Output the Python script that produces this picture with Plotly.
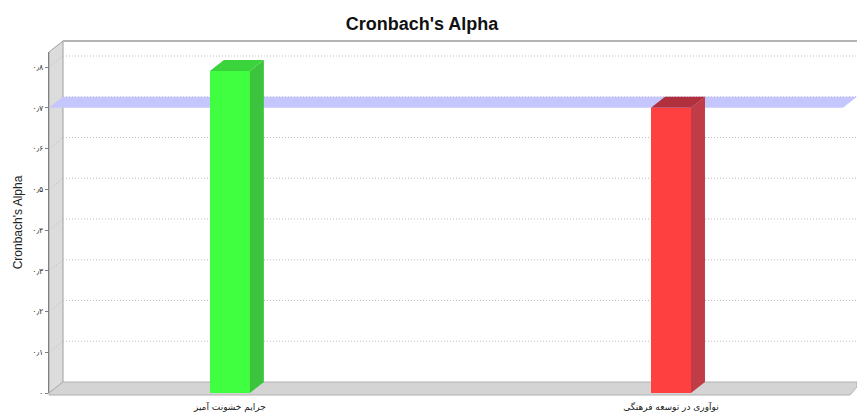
import plotly.graph_objects as go

# ---- data ----
categories = ["جرایم خشونت آمیز", "نوآوری در توسعه فرهنگی"]
alpha_values = [0.79, 0.70]
bar_colors = ["#40FF40", "#FF4040"]
side_colors = ["#3CC43C", "#C03C46"]
top_colors = ["#3CD43C", "#B0303E"]
threshold = 0.70
y_tickvals = [0, 0.1, 0.2, 0.3, 0.4, 0.5, 0.6, 0.7, 0.8]
y_ticktext = ["۰", "۰٫۱", "۰٫۲", "۰٫۳", "۰٫۴", "۰٫۵", "۰٫۶", "۰٫۷", "۰٫۸"]

# ---- layout geometry ----
W, H = 857, 417
ML, MR, MT, MB = 49, 14, 52, 24
PW, PH = W - ML - MR, H - MT - MB
XMIN, XMAX = -0.41, 1.39
YMAX = 0.8368
DX, DY = 14, 11                       # 3D depth offset in pixels
px_x = PW / (XMAX - XMIN)
px_y = PH / YMAX
ddx, ddy = DX / px_x, DY / px_y       # depth in data units
BW = 40 / px_x                        # bar width in data units

fig = go.Figure()

xs = list(range(len(categories)))
# front faces
fig.add_trace(go.Bar(x=xs, y=alpha_values, width=BW,
                     marker=dict(color=bar_colors, line=dict(width=0)),
                     hoverinfo="skip", showlegend=False))
# side + top faces
for i, v in enumerate(alpha_values):
    hw = BW / 2
    fig.add_trace(go.Scatter(
        x=[i + hw, i + hw + ddx, i + hw + ddx, i + hw, i + hw],
        y=[0, ddy, v + ddy, v, 0],
        fill="toself", fillcolor=side_colors[i], mode="lines",
        line=dict(width=0), hoverinfo="skip", showlegend=False))
    fig.add_trace(go.Scatter(
        x=[i - hw, i - hw + ddx, i + hw + ddx, i + hw, i - hw],
        y=[v, v + ddy, v + ddy, v, v],
        fill="toself", fillcolor=top_colors[i], mode="lines",
        line=dict(width=0), hoverinfo="skip", showlegend=False))

shapes = []
# left wall
shapes.append(dict(type="path", layer="below", xref="paper", yref="paper",
                   xsizemode="pixel", ysizemode="pixel", xanchor=0, yanchor=0,
                   path=f"M0,0 L0,{PH} L{DX},{PH + DY} L{DX},{DY} Z",
                   fillcolor="#DCDCDC", line=dict(color="#A0A0A0", width=1)))
# floor
shapes.append(dict(type="path", layer="below", xref="paper", yref="paper",
                   xsizemode="pixel", ysizemode="pixel", xanchor=0, yanchor=0,
                   path=f"M0,-2 L{PW + 7},-2 L{PW + DX},{DY - 5} L{PW + DX},{DY} L{DX},{DY} L0,0 Z",
                   fillcolor="#D4D4D4", line=dict(color="#B0B0B0", width=1)))
# back wall top border
shapes.append(dict(type="line", layer="below", xref="paper", yref="paper",
                   xsizemode="pixel", ysizemode="pixel", xanchor=0, yanchor=1,
                   x0=DX, x1=PW + DX, y0=DY, y1=DY,
                   line=dict(color="#B4B4B4", width=2)))
# gridlines on back wall and left wall
for v in y_tickvals[1:]:
    shapes.append(dict(type="line", layer="below", xref="paper", yref="y",
                       xsizemode="pixel", ysizemode="pixel", xanchor=0, yanchor=v,
                       x0=DX, x1=PW + DX, y0=DY, y1=DY,
                       line=dict(color="#BDBDBD", width=1, dash="1px,2px")))
    shapes.append(dict(type="line", layer="below", xref="paper", yref="y",
                       xsizemode="pixel", ysizemode="pixel", xanchor=0, yanchor=v,
                       x0=0, x1=DX, y0=0, y1=DY,
                       line=dict(color="#BDBDBD", width=1, dash="1px,2px")))
# threshold plane
shapes.append(dict(type="path", layer="below", xref="paper", yref="y",
                   xsizemode="pixel", ysizemode="pixel", xanchor=0, yanchor=threshold,
                   path=f"M0,0 L{PW},0 L{PW + DX},{DY} L{DX},{DY} Z",
                   fillcolor="#C6C6FF", line=dict(width=0)))

fig.update_layout(
    width=W, height=H,
    margin=dict(l=ML, r=MR, t=MT, b=MB, autoexpand=False),
    paper_bgcolor="white", plot_bgcolor="white",
    title=dict(text="<b>Cronbach's Alpha</b>", x=422 / W, xanchor="center",
               y=1 - 24 / H, yanchor="middle",
               font=dict(family="Liberation Sans, Arial", size=18, color="#111111")),
    shapes=shapes,
    xaxis=dict(range=[XMIN, XMAX], tickvals=xs, ticktext=categories, automargin=False,
               showgrid=False, zeroline=False, showline=False, ticks="",
               ticklabelstandoff=7,
               tickfont=dict(family="DejaVu Sans, Noto Sans", size=9, color="#222222")),
    yaxis=dict(range=[0, YMAX], tickvals=y_tickvals, ticktext=y_ticktext, automargin=False,
               showgrid=False, zeroline=False, showline=True, linecolor="#808080",
               ticks="outside", ticklen=3, tickcolor="#808080",
               tickfont=dict(family="DejaVu Sans", size=8, color="#333333"),
               title=dict(text="Cronbach's Alpha", standoff=6,
                          font=dict(family="Liberation Sans, Arial", size=12, color="#222222"))),
    bargap=0,
)

fig.write_html("out.html", config={"displayModeBar": False},
               post_script="document.body.style.margin='0';document.body.style.overflow='hidden';")
